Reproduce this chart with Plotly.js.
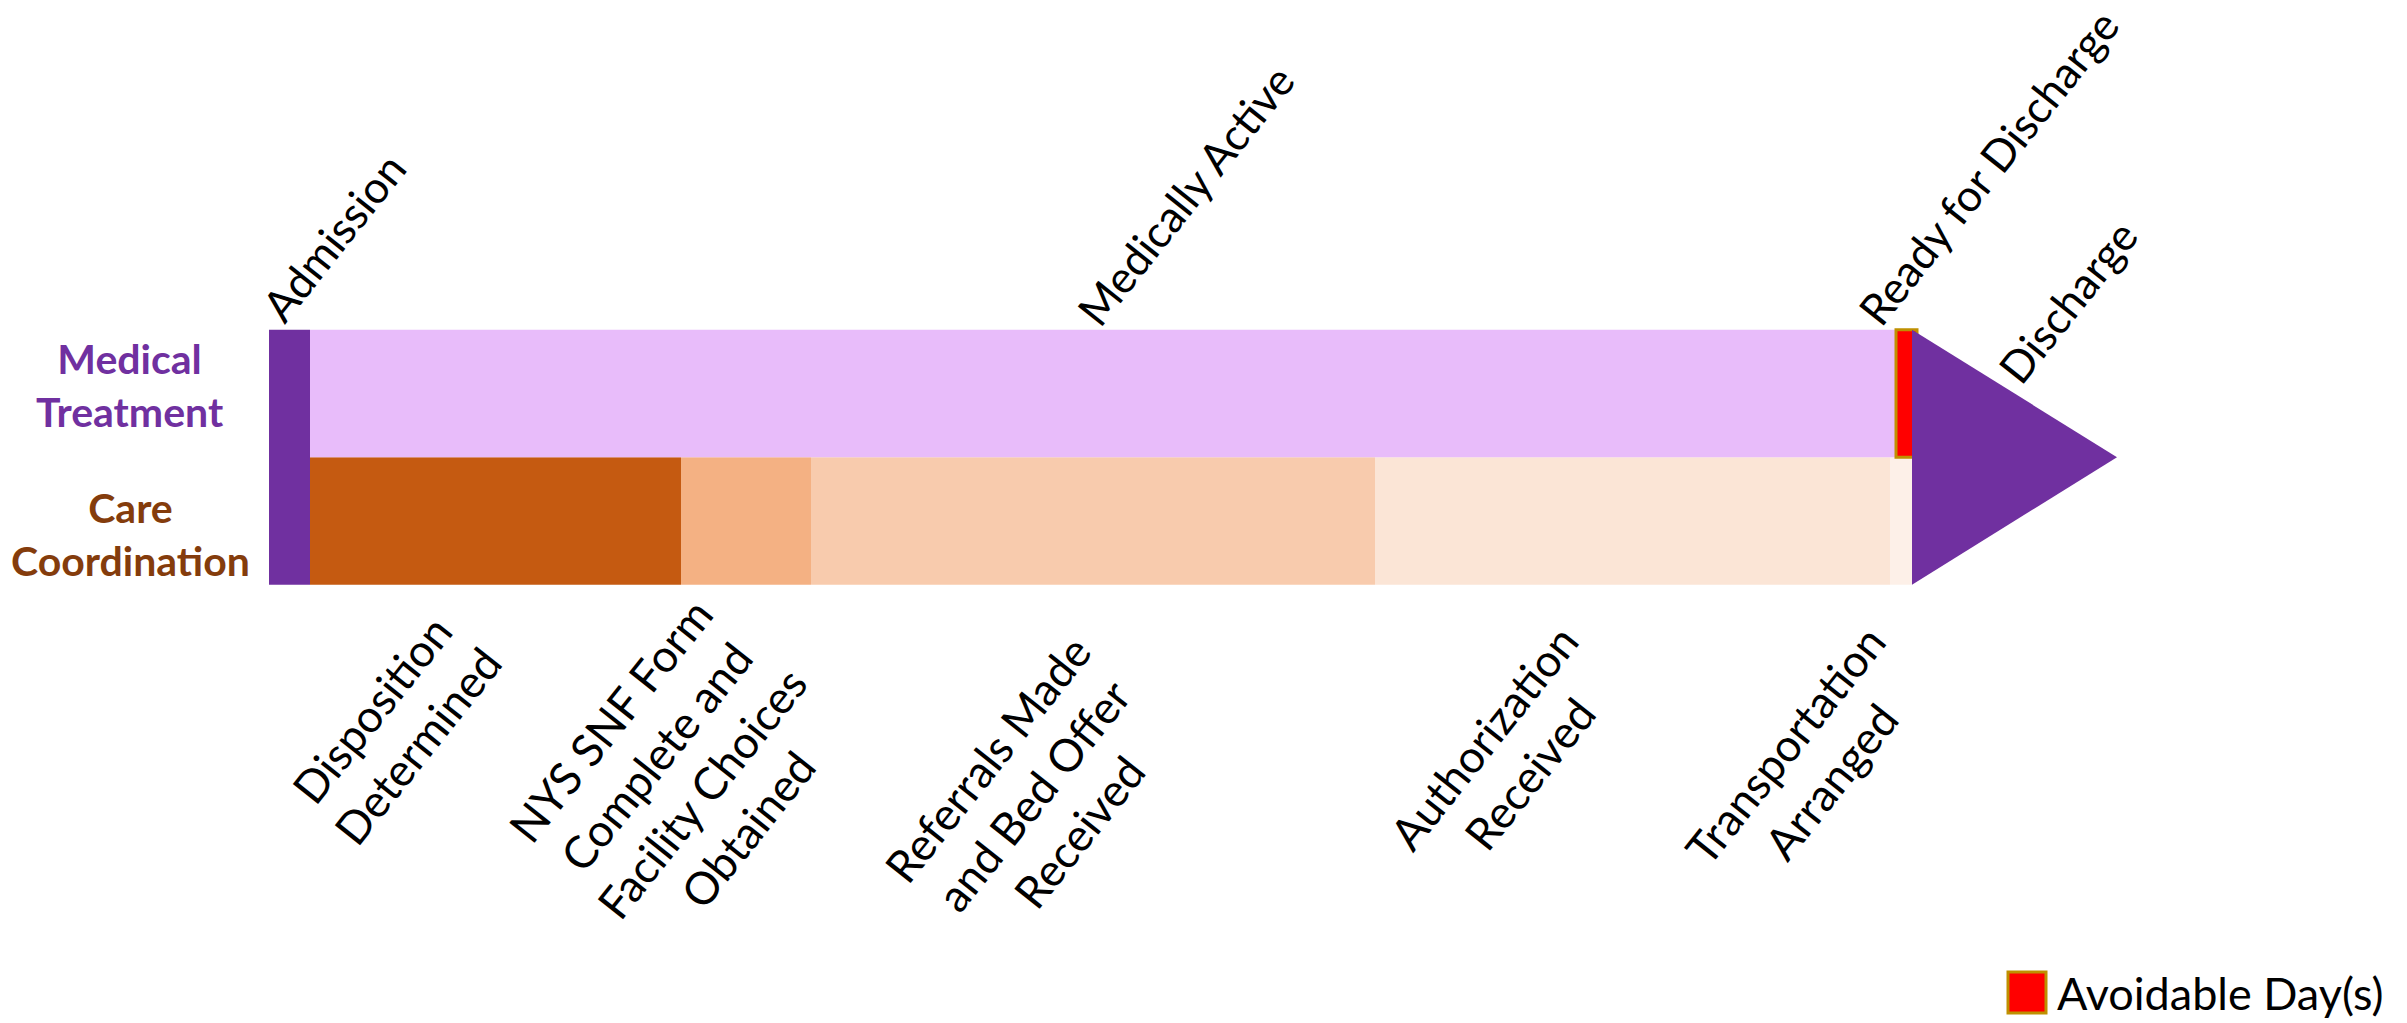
<!DOCTYPE html>
<html>
<head>
<meta charset="utf-8">
<script src="https://cdn.plot.ly/plotly-3.0.1.min.js"></script>
<style>
  html, body { margin: 0; padding: 0; background: #ffffff; }
  #chart { width: 2407px; height: 1023px; }
</style>
</head>
<body>
<div id="chart"></div>
<script>
// ---- Data (timeline units) ----
const rowNames = ['Medical Treatment', 'Care Coordination'];

const admissionLabel = 'Admission';
const admissionLength = 4.1;

const medicalLabels = ['Medically Active', 'Ready for Discharge'];
const medicalDurations = [158.6, 2.1];          // active period, avoidable day(s)

const careLabels = [
  'Disposition<br>Determined',
  'NYS SNF Form<br>Complete and<br>Facility Choices<br>Obtained',
  'Referrals Made<br>and Bed Offer<br>Received',
  'Authorization<br>Received',
  'Transportation<br>Arranged'
];
const careDurations = [37.1, 13.0, 56.4, 51.5, 2.2];

const dischargeLabel = 'Discharge';
const dischargeArrowLength = 20.5;

const legendLabel = 'Avoidable Day(s)';

// ---- Derived values ----
const admissionEnd = admissionLength;
const careStarts = [];
let acc = admissionEnd;
careDurations.forEach(d => { careStarts.push(acc); acc += d; });
const dischargeStart = acc;
const medicalStarts = [admissionEnd, admissionEnd + medicalDurations[0]];

const MED_Y = 1, CARE_Y = 0;

const PURPLE = '#7030A0';
const careColors = ['#C55A11', '#F4B183', '#F8CBAD', '#FBE5D6', '#FDF0E8'];

const traces = [
  { // care coordination row
    type: 'bar', orientation: 'h',
    y: careDurations.map(() => CARE_Y),
    x: careDurations, base: careStarts, width: 1,
    marker: { color: careColors, line: { width: 0 } },
    hoverinfo: 'skip', showlegend: false
  },
  { // medically active
    type: 'bar', orientation: 'h',
    y: [MED_Y], x: [medicalDurations[0]], base: [medicalStarts[0]], width: 1,
    marker: { color: '#E8BCFA', line: { width: 0 } },
    hoverinfo: 'skip', showlegend: false
  },
  { // avoidable day(s)
    type: 'bar', orientation: 'h',
    y: [MED_Y], x: [medicalDurations[1]], base: [medicalStarts[1]], width: 1,
    marker: { color: '#FF0000', line: { color: '#BF9000', width: 3 } },
    hoverinfo: 'skip', showlegend: false
  },
  { // admission (spans both rows)
    type: 'bar', orientation: 'h',
    y: [(MED_Y + CARE_Y) / 2], x: [admissionLength], base: [0], width: 2,
    marker: { color: PURPLE, line: { width: 0 } },
    hoverinfo: 'skip', showlegend: false
  },
  { // discharge arrow head
    type: 'scatter', mode: 'lines',
    x: [dischargeStart, dischargeStart + dischargeArrowLength, dischargeStart, dischargeStart],
    y: [MED_Y + 0.5, (MED_Y + CARE_Y) / 2, CARE_Y - 0.5, MED_Y + 0.5],
    fill: 'toself', fillcolor: PURPLE, line: { width: 0, color: PURPLE },
    hoverinfo: 'skip', showlegend: false
  }
];

const FONT = 'Lato, "Open Sans", sans-serif';
const ANG = -51.5;
const labelFont = { family: FONT, size: 44, color: '#000000' };
const bottomFont = { family: FONT, size: 45, color: '#000000' };

function lab(text, x, y, font) {
  return { text, x, y, xref: 'x', yref: 'y', showarrow: false,
           textangle: ANG, xanchor: 'center', yanchor: 'middle',
           align: 'center', font: font || labelFont };
}

const annotations = [
  lab(admissionLabel, 6.4, 2.227),
  lab(medicalLabels[0], 91.6, 2.557),
  lab(medicalLabels[1], 171.9, 2.776),
  lab(dischargeLabel, 179.8, 1.718),
  lab(careLabels[0], 12.6, -1.62, bottomFont),
  lab(careLabels[1], 41.0, -1.99, bottomFont),
  lab(careLabels[2], 76.4, -2.15, bottomFont),
  lab(careLabels[3], 123.8, -1.84, bottomFont),
  lab(careLabels[4], 153.9, -1.90, bottomFont),
  { text: '<b>Medical<br>Treatment</b>', x: -13.9, y: 1.07, xref: 'x', yref: 'y',
    showarrow: false, align: 'center', xanchor: 'center', yanchor: 'middle',
    font: { family: FONT, size: 41, color: '#7030A0' } },
  { text: '<b>Care<br>Coordination</b>', x: -13.9, y: -0.10, xref: 'x', yref: 'y',
    showarrow: false, align: 'center', xanchor: 'center', yanchor: 'middle',
    font: { family: FONT, size: 41, color: '#843C0C' } },
  { text: legendLabel, x: 2055 / 2407, y: 1 - 993 / 1023, xref: 'paper', yref: 'paper',
    showarrow: false, xanchor: 'left', yanchor: 'middle',
    font: { family: FONT, size: 45, color: '#000000' } }
];

const shapes = [
  { type: 'rect', xref: 'paper', yref: 'paper',
    x0: 2008 / 2407, x1: 2046 / 2407, y0: 1 - 1013 / 1023, y1: 1 - 972 / 1023,
    fillcolor: '#FF0000', line: { color: '#BF9000', width: 3 } }
];

const layout = {
  width: 2407, height: 1023,
  margin: { l: 0, r: 0, t: 0, b: 0, pad: 0 },
  paper_bgcolor: '#ffffff', plot_bgcolor: '#ffffff',
  barmode: 'overlay',
  showlegend: false,
  hovermode: false,
  xaxis: { range: [-26.9, 213.8], visible: false, fixedrange: true },
  yaxis: { range: [-3.937, 4.086], visible: false, fixedrange: true },
  annotations, shapes
};

Plotly.newPlot('chart', traces, layout, { displayModeBar: false, staticPlot: true });
</script>
</body>
</html>
